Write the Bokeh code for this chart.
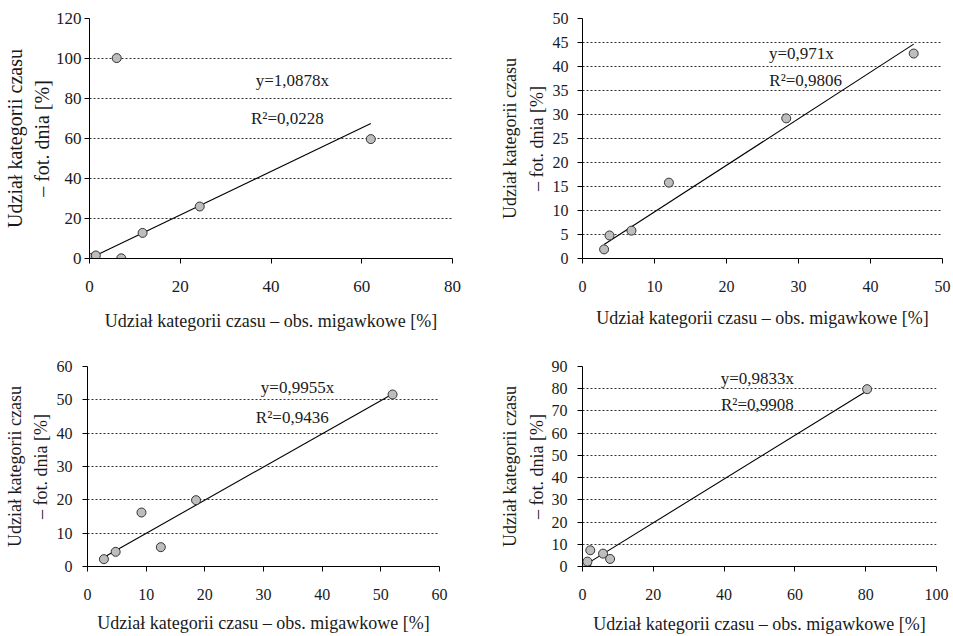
from bokeh.plotting import figure
from bokeh.layouts import column, row
from bokeh.models import Range1d, FixedTicker, Label
from bokeh.embed import file_html
from bokeh.resources import INLINE

# ---- data -------------------------------------------------------------
x1 = [0.6, 1.4, 7.0, 11.7, 24.3, 6.0, 62.0]
y1 = [0.4, 1.5, 0.1, 12.8, 26.0, 100.2, 59.7]
slope1 = 1.0878
eq1 = "y=1,0878x"
r1 = "R²=0,0228"

x2 = [3.0, 3.75, 6.8, 12.0, 28.3, 46.0]
y2 = [1.9, 4.8, 5.8, 15.8, 29.2, 42.7]
slope2 = 0.971
eq2 = "y=0,971x"
r2 = "R²=0,9806"

x3 = [2.8, 4.8, 9.2, 12.5, 18.5, 52.0]
y3 = [2.2, 4.4, 16.2, 5.8, 19.9, 51.6]
slope3 = 0.9955
eq3 = "y=0,9955x"
r3 = "R²=0,9436"

x4 = [1.1, 1.4, 2.2, 5.8, 7.8, 80.4]
y4 = [0.9, 2.2, 7.3, 5.8, 3.4, 79.8]
slope4 = 0.9833
eq4 = "y=0,9833x"
r4 = "R²=0,9908"

xticks1 = [0, 20, 40, 60, 80]
yticks1 = [0, 20, 40, 60, 80, 100, 120]
xticks2 = [0, 10, 20, 30, 40, 50]
yticks2 = [0, 5, 10, 15, 20, 25, 30, 35, 40, 45, 50]
xticks3 = [0, 10, 20, 30, 40, 50, 60]
yticks3 = [0, 10, 20, 30, 40, 50, 60]
xticks4 = [0, 20, 40, 60, 80, 100]
yticks4 = [0, 10, 20, 30, 40, 50, 60, 70, 80, 90]

xlabel = "Udział kategorii czasu – obs. migawkowe [%]"
ylabel = "Udział kategorii czasu\n– fot. dnia [%]"

FONT = "Liberation Serif"


def panel(xs, ys, slope, eq, r2, xt, yt, w, h, bl, br, bt, bb,
          eq_pos, r_pos, tick_size, ylab_size, ylab_lh, ytick_so, ylab_so,
          xtick_so, xlab_so):
    p = figure(width=w, height=h, output_backend="svg", toolbar_location=None,
               x_range=Range1d(xt[0], xt[-1]), y_range=Range1d(yt[0], yt[-1]),
               min_border_left=bl, min_border_right=br,
               min_border_top=bt, min_border_bottom=bb)
    p.outline_line_color = None
    p.background_fill_color = "white"
    p.border_fill_color = "white"
    p.xgrid.visible = False
    p.ygrid.grid_line_color = "#333333"
    p.ygrid.grid_line_dash = "2 2"
    p.ygrid.grid_line_width = 1

    p.xaxis.ticker = FixedTicker(ticks=xt)
    p.yaxis.ticker = FixedTicker(ticks=yt)
    for ax in (p.xaxis[0], p.yaxis[0]):
        ax.axis_line_color = "black"
        ax.axis_line_width = 1
        ax.major_tick_line_color = "black"
        ax.major_tick_in = 0
        ax.major_tick_out = 5
        ax.minor_tick_line_color = None
        ax.major_label_text_font = FONT
        ax.major_label_text_font_size = tick_size
        ax.major_label_text_color = "#1a1a1a"
        ax.axis_label_text_font = FONT
        ax.axis_label_text_font_style = "normal"
        ax.axis_label_text_color = "#1a1a1a"
    p.xaxis.axis_label = xlabel
    p.xaxis.axis_label_text_font_size = "18px"
    p.xaxis.major_label_standoff = xtick_so
    p.xaxis.axis_label_standoff = xlab_so
    p.yaxis.axis_label = ylabel
    p.yaxis.axis_label_text_font_size = ylab_size
    p.yaxis.axis_label_text_line_height = ylab_lh
    p.yaxis.major_label_standoff = ytick_so
    p.yaxis.axis_label_standoff = ylab_so

    x0, x1_ = min(xs), max(xs)
    p.line([x0, x1_], [slope * x0, slope * x1_], line_color="black", line_width=1.1)
    p.scatter(xs, ys, size=9, fill_color="#bdbdbd", line_color="#333333",
              line_width=1)

    for txt, pos in ((eq, eq_pos), (r2, r_pos)):
        p.add_layout(Label(x=pos[0], y=pos[1], text=txt, text_font=FONT,
                           text_font_size="17px", text_align="center",
                           text_baseline="middle", text_color="#1a1a1a"))
    return p


p1 = panel(x1, y1, slope1, eq1, r1, xticks1, yticks1, 476, 334, 89, 24, 17, 76,
           (44.7, 89.1), (43.6, 70.2), "17px", "20px", 1.25, 3, 0, 17, 16)
p2 = panel(x2, y2, slope2, eq2, r2, xticks2, yticks2, 477, 334, 106, 11, 18, 76,
           (30.4, 42.7), (31.0, 37.1), "16px", "18px", 1.33, 9, 3, 17, 13)
p3 = panel(x3, y3, slope3, eq3, r3, xticks3, yticks3, 476, 302, 87, 37, 32, 68,
           (35.8, 53.7), (34.9, 44.8), "16px", "18px", 1.28, 10, 3, 17, 10)
p4 = panel(x4, y4, slope4, eq4, r4, xticks4, yticks4, 477, 302, 106, 17, 27, 67,
           (49.4, 84.8), (49.4, 72.7), "16px", "18px", 1.33, 10, 2, 17, 11)

layout = column(row(p1, p2), row(p3, p4))

with open("out.html", "w") as f:
    f.write(file_html(layout, INLINE))
